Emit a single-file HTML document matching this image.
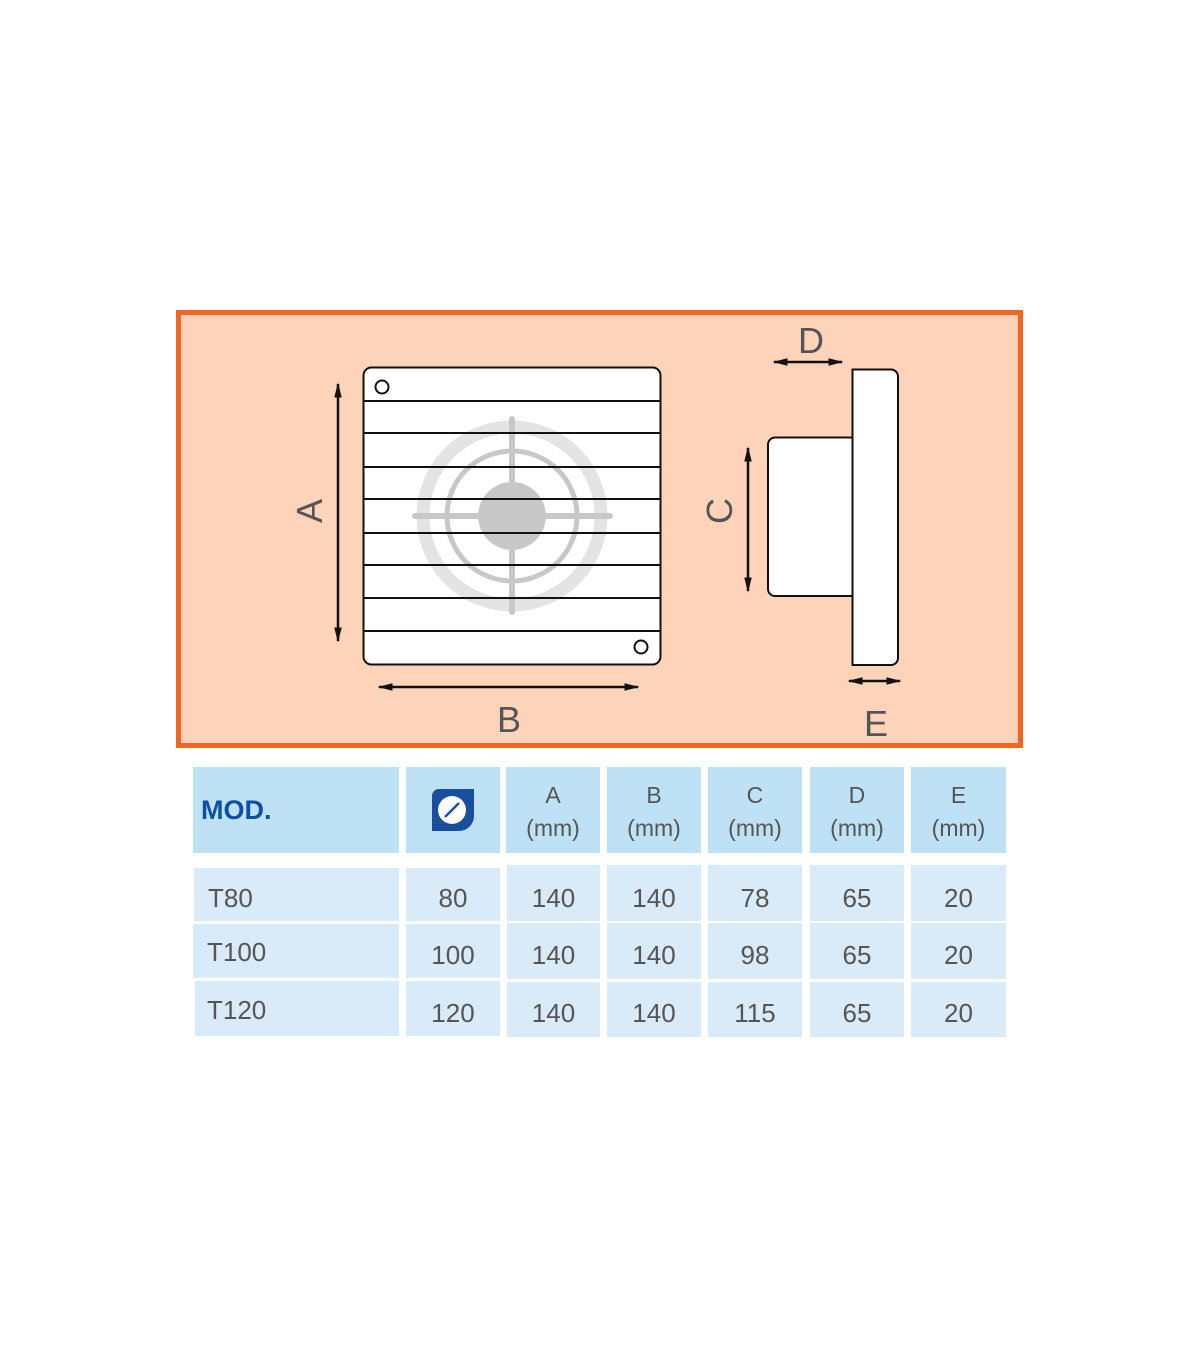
<!DOCTYPE html>
<html><head><style>
body{margin:0;background:#fff;width:1200px;height:1372px;position:relative;font-family:"Liberation Sans",sans-serif;overflow:hidden}
.c{position:absolute;display:flex;align-items:center;justify-content:center;color:#555;font-size:26px;box-sizing:border-box}
.h{background:#bfe1f6;text-align:center;line-height:33px;font-size:23px;padding-top:4px}
.r{background:#d9eaf8}
</style></head><body>
<svg width="1200" height="1372" style="position:absolute;left:0;top:0">
<defs>
<marker id="ar" viewBox="0 0 10 10" refX="9" refY="5" markerWidth="6" markerHeight="6" orient="auto-start-reverse"><path d="M0,2.5 L10,5 L0,7.5z" fill="#111"/></marker>
</defs>
<rect x="178.5" y="312.5" width="842" height="433" fill="#fdd4b9" stroke="#f26522" stroke-width="5"/>
<rect x="363.5" y="367.5" width="297" height="297" rx="8" fill="#fff" stroke="#111" stroke-width="2"/>
<circle cx="512" cy="516" r="89" fill="none" stroke="#e4e4e4" stroke-width="13"/>
<circle cx="512" cy="516" r="65" fill="none" stroke="#c8c8c8" stroke-width="5"/>
<circle cx="512" cy="516" r="34" fill="#c8c8c8"/>
<line x1="415" y1="516" x2="610" y2="516" stroke="#c8c8c8" stroke-width="6" stroke-linecap="round"/>
<line x1="512" y1="419" x2="512" y2="612" stroke="#c8c8c8" stroke-width="6" stroke-linecap="round"/>
<g stroke="#111" stroke-width="2">
<line x1="364" y1="401" x2="660" y2="401"/><line x1="364" y1="433" x2="660" y2="433"/>
<line x1="364" y1="467" x2="660" y2="467"/><line x1="364" y1="499" x2="660" y2="499"/>
<line x1="364" y1="533" x2="660" y2="533"/><line x1="364" y1="565" x2="660" y2="565"/>
<line x1="364" y1="598" x2="660" y2="598"/><line x1="364" y1="631" x2="660" y2="631"/>
</g>
<circle cx="382" cy="387" r="6.5" fill="#fff" stroke="#111" stroke-width="2"/>
<circle cx="641" cy="647" r="6.5" fill="#fff" stroke="#111" stroke-width="2"/>
<g stroke="#111" stroke-width="2.5" marker-start="url(#ar)" marker-end="url(#ar)">
<line x1="338" y1="384" x2="338" y2="641"/>
<line x1="379" y1="687" x2="638" y2="687"/>
<line x1="748" y1="448" x2="748" y2="591"/>
<line x1="774" y1="362" x2="842" y2="362"/>
<line x1="849" y1="681" x2="900" y2="681"/>
</g>
<path d="M852.5,437.5 H775 a7,7 0 0 0 -7,7 V589 a7,7 0 0 0 7,7 H852.5z" fill="#fff" stroke="#111" stroke-width="2"/>
<path d="M852.5,369.5 H891 a7,7 0 0 1 7,7 V658 a7,7 0 0 1 -7,7 H852.5z" fill="#fff" stroke="#111" stroke-width="2"/>
<g font-family="Liberation Sans, sans-serif" font-size="36" fill="#555" text-anchor="middle">
<text x="509" y="732">B</text>
<text x="811" y="353">D</text>
<text x="876" y="736">E</text>
<text transform="translate(322,511) rotate(-90)">A</text>
<text transform="translate(732,511) rotate(-90)">C</text>
</g>
</svg>
<div class="c h" style="left:193px;top:767px;width:206px;height:86px;justify-content:flex-start;padding-left:8px;padding-top:0;color:#0d4fa3;font-weight:bold;font-size:27px">MOD.</div>
<div class="c h" style="left:406px;top:767px;width:94px;height:86px;padding-top:0"><svg width="44" height="44"><path d="M8,1 H43 V28 a15,15 0 0 1 -15,15 H1 V8 a7,7 0 0 1 7,-7z" fill="#1a4fa0"/><circle cx="21" cy="22" r="14" fill="#fff"/><line x1="14" y1="29" x2="28" y2="15" stroke="#1a4fa0" stroke-width="2.5"/></svg></div>
<div class="c h" style="left:506px;top:767px;width:94px;height:86px">A<br>(mm)</div>
<div class="c h" style="left:607px;top:767px;width:94px;height:86px">B<br>(mm)</div>
<div class="c h" style="left:708px;top:767px;width:94px;height:86px">C<br>(mm)</div>
<div class="c h" style="left:810px;top:767px;width:94px;height:86px">D<br>(mm)</div>
<div class="c h" style="left:911px;top:767px;width:95px;height:86px">E<br>(mm)</div>

<div class="c r" style="left:194px;top:868px;width:205px;height:53px;justify-content:flex-start;padding-left:14px;padding-top:8px">T80</div>
<div class="c r" style="left:406px;top:868px;width:94px;height:53px;padding-top:8px">80</div>
<div class="c r" style="left:507px;top:865px;width:93px;height:56px;padding-top:10px">140</div>
<div class="c r" style="left:607px;top:865px;width:94px;height:56px;padding-top:10px">140</div>
<div class="c r" style="left:708px;top:865px;width:94px;height:56px;padding-top:10px">78</div>
<div class="c r" style="left:810px;top:865px;width:94px;height:56px;padding-top:10px">65</div>
<div class="c r" style="left:911px;top:865px;width:95px;height:56px;padding-top:10px">20</div>

<div class="c r" style="left:193px;top:924px;width:206px;height:54px;justify-content:flex-start;padding-left:14px;padding-top:2px">T100</div>
<div class="c r" style="left:406px;top:924px;width:94px;height:54px;padding-top:8px">100</div>
<div class="c r" style="left:507px;top:923px;width:93px;height:56px;padding-top:8px">140</div>
<div class="c r" style="left:607px;top:923px;width:94px;height:56px;padding-top:8px">140</div>
<div class="c r" style="left:708px;top:923px;width:94px;height:56px;padding-top:8px">98</div>
<div class="c r" style="left:810px;top:923px;width:94px;height:56px;padding-top:8px">65</div>
<div class="c r" style="left:911px;top:923px;width:95px;height:56px;padding-top:8px">20</div>

<div class="c r" style="left:195px;top:981px;width:204px;height:55px;justify-content:flex-start;padding-left:12px;padding-top:4px">T120</div>
<div class="c r" style="left:406px;top:981px;width:94px;height:55px;padding-top:10px">120</div>
<div class="c r" style="left:507px;top:982px;width:93px;height:55px;padding-top:8px">140</div>
<div class="c r" style="left:607px;top:982px;width:94px;height:55px;padding-top:8px">140</div>
<div class="c r" style="left:708px;top:982px;width:94px;height:55px;padding-top:8px">115</div>
<div class="c r" style="left:810px;top:982px;width:94px;height:55px;padding-top:8px">65</div>
<div class="c r" style="left:911px;top:982px;width:95px;height:55px;padding-top:8px">20</div>
</body></html>
